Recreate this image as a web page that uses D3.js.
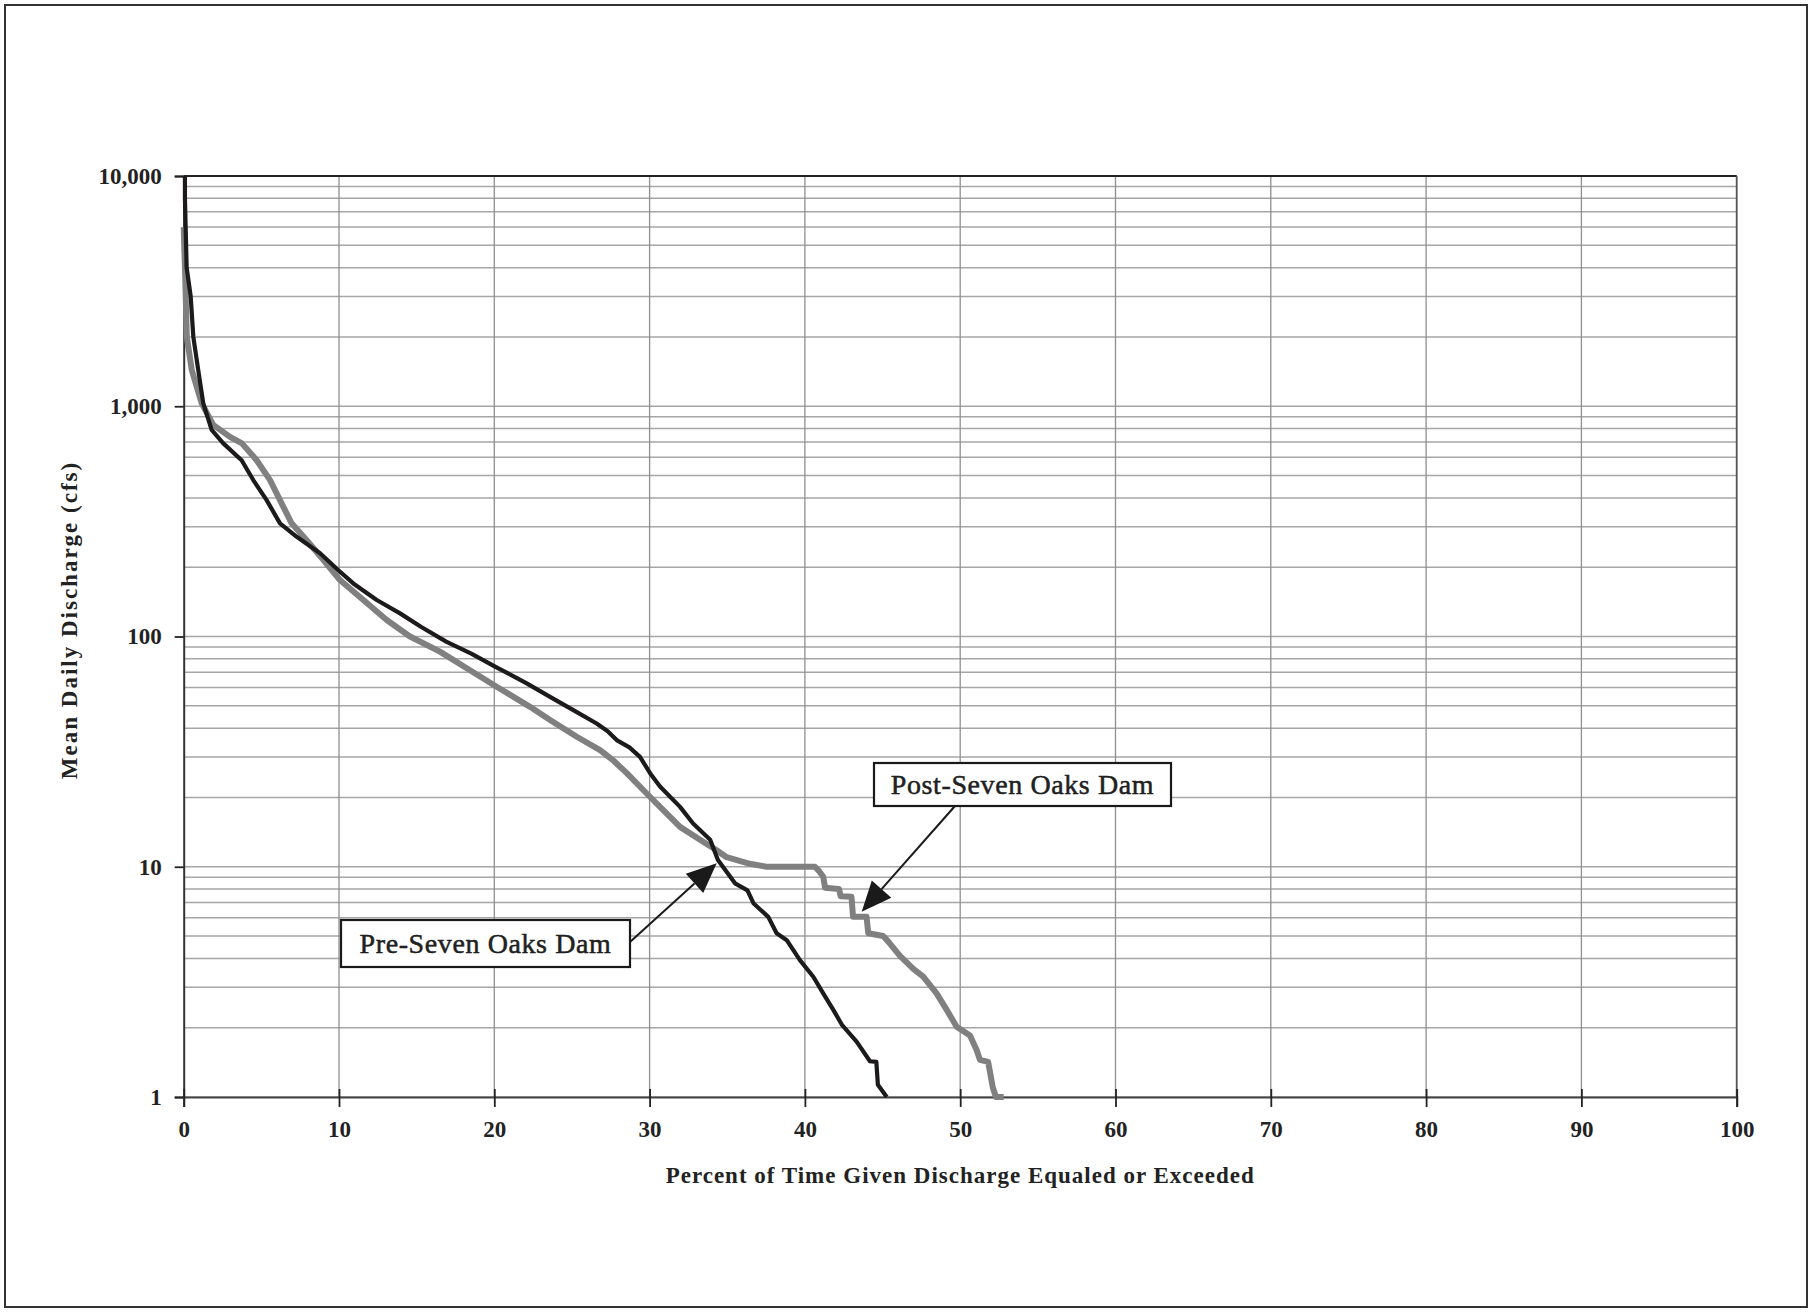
<!DOCTYPE html>
<html>
<head>
<meta charset="utf-8">
<script src="https://cdn.jsdelivr.net/npm/d3@7/dist/d3.min.js"></script>
<style>
  html, body { margin: 0; padding: 0; background: #fff; }
  svg { display: block; }
  text { font-family: "Liberation Serif", "Times New Roman", serif; fill: #222; }
</style>
</head>
<body>
<svg id="chart" width="1813" height="1312"></svg>
<script>
// ---- Data ----
const xTicks = [0, 10, 20, 30, 40, 50, 60, 70, 80, 90, 100];
const yTicks = [1, 10, 100, 1000, 10000];

// Pre-Seven Oaks Dam: percent exceedance and discharge (cfs)
const prePercent = [0.08, 0.08, 0.12, 0.19, 0.45, 0.62, 0.94, 1.26, 1.8, 2.55, 3.73, 4.48, 5.34, 6.2, 7.28, 8.78, 9.96, 10.92, 12.43, 13.93, 15.3, 16.9, 18.55, 20.05, 22.09, 23.59, 25.09, 26.59, 27.3, 27.88, 28.7, 29.38, 30.03, 30.67, 31.96, 32.8, 33.9, 34.4, 35.5, 36.3, 36.7, 37.64, 38.18, 38.83, 39.68, 40.54, 41.18, 41.83, 42.4, 43.33, 44.19, 44.6, 44.7, 45.27];
const preFlow    = [10000, 8000, 6200, 4000, 3000, 2000, 1430, 1030, 790, 690, 583, 478, 391, 310, 271, 230, 194, 170, 144, 126, 110, 95, 84, 74, 62.6, 54.7, 47.9, 41.9, 38.8, 35.5, 33.0, 30.0, 25.5, 22.3, 18.2, 15.4, 13.1, 10.7, 8.47, 7.9, 6.92, 6.06, 5.14, 4.8, 3.93, 3.33, 2.82, 2.39, 2.05, 1.74, 1.43, 1.42, 1.13, 1.0];

// Post-Seven Oaks Dam
const postPercent = [0.0, 0.08, 0.2, 0.52, 1.16, 1.9, 2.98, 3.75, 4.7, 5.56, 6.2, 6.95, 7.92, 9.0, 10.06, 11.57, 13.07, 14.57, 16.5, 18.2, 20.15, 22.3, 23.59, 25.31, 26.81, 27.7, 28.53, 29.81, 30.88, 31.96, 33.25, 34.32, 34.96, 36.46, 37.54, 40.65, 40.9, 41.18, 41.3, 42.2, 42.3, 43.0, 43.1, 43.97, 44.08, 45.04, 45.37, 46.12, 46.98, 47.62, 48.48, 49.13, 49.77, 50.63, 51.06, 51.27, 51.8, 52.1, 52.3, 52.8];
const postFlow    = [6000, 4000, 2000, 1435, 1030, 830, 736, 690, 583, 478, 391, 310, 262, 215, 176, 144, 118, 100, 86, 73, 60.5, 49.5, 43.4, 36.7, 32.1, 28.8, 25.5, 20.8, 17.6, 14.9, 13.1, 11.8, 11.0, 10.3, 10.0, 10.0, 9.6, 9.05, 8.1, 8.0, 7.45, 7.4, 6.06, 6.06, 5.14, 5.0, 4.73, 4.1, 3.6, 3.33, 2.82, 2.39, 2.02, 1.85, 1.6, 1.45, 1.42, 1.1, 1.0, 1.0];

const seriesNames = ["Pre-Seven Oaks Dam", "Post-Seven Oaks Dam"];
const xTitle = "Percent of Time Given Discharge Equaled or Exceeded";
const yTitle = "Mean Daily Discharge (cfs)";

// ---- Layout ----
(function draw() {
const svg = d3.select("#chart");
const W = 1813, H = 1312;
const pL = 183.7, pR = 1736.7, pT = 176, pB = 1097;

svg.append("rect").attr("x", 5).attr("y", 5).attr("width", W - 11).attr("height", H - 10)
  .attr("fill", "#fff").attr("stroke", "#333").attr("stroke-width", 2);

const x = d3.scaleLinear().domain([0, 100]).range([pL, pR]);
const y = d3.scaleLog().domain([1, 10000]).range([pB, pT]);

// minor + major horizontal gridlines
const hLines = [];
for (let e = 0; e < 4; e++) for (let k = 1; k <= 9; k++) hLines.push(k * Math.pow(10, e));
hLines.push(10000);
const grid = svg.append("g");
grid.selectAll("line.h").data(hLines).join("line")
  .attr("x1", pL).attr("x2", pR)
  .attr("y1", d => y(d)).attr("y2", d => y(d))
  .attr("stroke", "#a6a6a6").attr("stroke-width", 1.5);
grid.selectAll("line.v").data(xTicks.slice(1, -1)).join("line")
  .attr("x1", d => x(d)).attr("x2", d => x(d))
  .attr("y1", pT).attr("y2", pB)
  .attr("stroke", "#8f8f8f").attr("stroke-width", 1.3);

// frame top/right
svg.append("line").attr("x1", pL).attr("x2", pR).attr("y1", pT).attr("y2", pT)
  .attr("stroke", "#222").attr("stroke-width", 1.8);
svg.append("line").attr("x1", pR).attr("x2", pR).attr("y1", pT).attr("y2", pB)
  .attr("stroke", "#555").attr("stroke-width", 1.8);

// axes
const yAxis = svg.append("g").attr("transform", `translate(${pL},0)`)
  .call(d3.axisLeft(y).tickValues(yTicks).tickFormat(d3.format(",")).tickSize(9).tickPadding(13));
yAxis.selectAll("text").attr("font-size", 23).attr("font-weight", "bold")
  .style("font-family", "'Liberation Serif', serif").attr("fill", "#222");
yAxis.select(".domain").attr("stroke", "#333").attr("stroke-width", 2);
yAxis.selectAll(".tick line").attr("stroke", "#222").attr("stroke-width", 1.8);

const xAxis = svg.append("g").attr("transform", `translate(0,${pB})`)
  .call(d3.axisBottom(x).tickValues(xTicks).tickSize(10).tickPadding(13.5));
xAxis.selectAll("text").attr("font-size", 23).attr("font-weight", "bold")
  .style("font-family", "'Liberation Serif', serif").attr("fill", "#222");
xAxis.select(".domain").attr("stroke", "#444").attr("stroke-width", 2);
xAxis.selectAll(".tick line").attr("y1", -8).attr("stroke", "#222").attr("stroke-width", 1.8);

// axis titles
svg.append("text").attr("x", (pL + pR) / 2).attr("y", 1183)
  .attr("text-anchor", "middle").attr("font-size", 23).attr("font-weight", "bold")
  .attr("letter-spacing", 1.0).text(xTitle);
svg.append("text").attr("transform", "translate(77,620) rotate(-90)")
  .attr("text-anchor", "middle").attr("font-size", 23).attr("font-weight", "bold")
  .attr("letter-spacing", 2.0).text(yTitle);

// series lines
const line = d3.line().x(d => x(d[0])).y(d => y(d[1]));
const preData = prePercent.map((p, i) => [p, preFlow[i]]);
const postData = postPercent.map((p, i) => [p, postFlow[i]]);

svg.append("path").datum(postData).attr("d", line)
  .attr("fill", "none").attr("stroke", "#808080").attr("stroke-width", 6)
  .attr("stroke-linejoin", "round");
svg.append("path").datum(preData).attr("d", line)
  .attr("fill", "none").attr("stroke", "#1c1a1a").attr("stroke-width", 4.2)
  .attr("stroke-linejoin", "round");

// annotations
function arrow(x1, y1, x2, y2) {
  const ang = Math.atan2(y2 - y1, x2 - x1);
  const len = 30, half = 13;
  const bx = x2 - len * Math.cos(ang), by = y2 - len * Math.sin(ang);
  svg.append("line").attr("x1", x1).attr("y1", y1).attr("x2", bx).attr("y2", by)
    .attr("stroke", "#1a1a1a").attr("stroke-width", 2);
  const px = -Math.sin(ang) * half, py = Math.cos(ang) * half;
  svg.append("path")
    .attr("d", `M${x2},${y2}L${bx + px},${by + py}L${bx - px},${by - py}Z`)
    .attr("fill", "#1a1a1a");
}
function box(x0, y0, w, h, label) {
  svg.append("rect").attr("x", x0).attr("y", y0).attr("width", w).attr("height", h)
    .attr("fill", "#fff").attr("stroke", "#1a1a1a").attr("stroke-width", 2.2);
  svg.append("text").attr("x", x0 + w / 2).attr("y", y0 + h / 2 + 9.5)
    .attr("text-anchor", "middle").attr("font-size", 28).attr("letter-spacing", 0.6)
    .attr("fill", "#1a1a1a").attr("stroke", "#1a1a1a").attr("stroke-width", 0.5)
    .text(label);
}
arrow(630, 942, 716.7, 863.3);
arrow(955, 806, 861.7, 911.7);
box(341, 920, 289, 47, seriesNames[0]);
box(874, 763, 297, 43, seriesNames[1]);
})();
</script>
</body>
</html>
